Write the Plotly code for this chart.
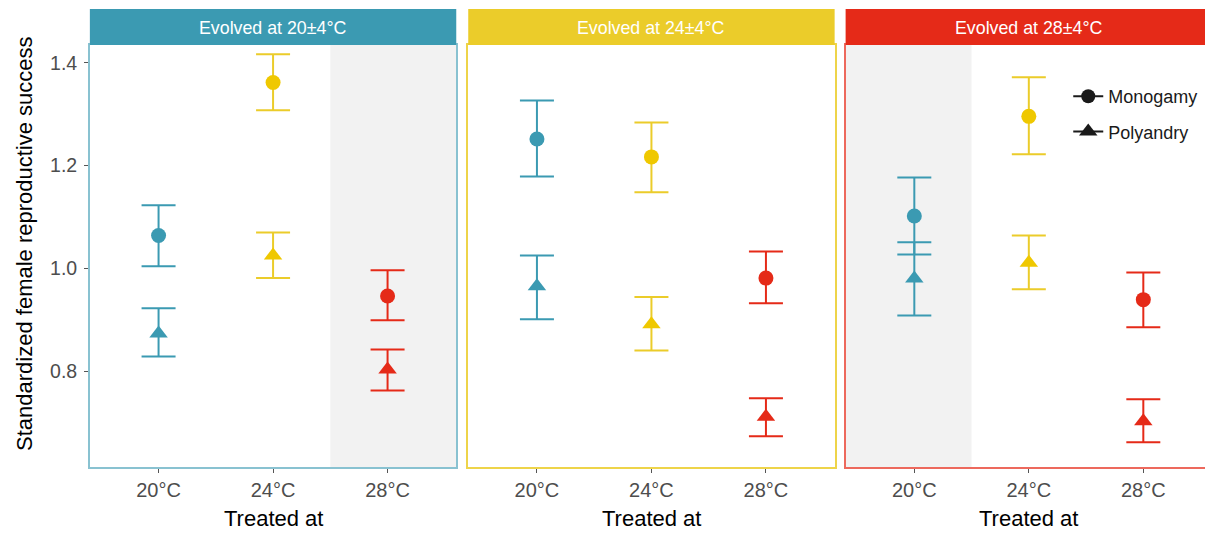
import plotly.graph_objects as go

# The page body has an 8px margin, so the figure is drawn 8px in from the window's corner
OFF = 8
WIN_W, WIN_H = 1213, 533
W, H = WIN_W, WIN_H - OFF

treat = ["20°C", "24°C", "28°C"]
panels = ["Evolved at 20±4°C", "Evolved at 24±4°C", "Evolved at 28±4°C"]

# Monogamy (circles): mean, lower, upper per panel (rows) x treatment (cols)
mono_mean = [[1.064, 1.362, 0.946], [1.252, 1.217, 0.981], [1.102, 1.296, 0.939]]
mono_lo = [[1.004, 1.308, 0.899], [1.179, 1.148, 0.932], [1.027, 1.222, 0.885]]
mono_hi = [[1.123, 1.417, 0.996], [1.327, 1.284, 1.033], [1.177, 1.372, 0.992]]

# Polyandry (triangles)
poly_mean = [[0.873, 1.025, 0.803], [0.965, 0.891, 0.711], [0.980, 1.011, 0.702]]
poly_lo = [[0.828, 0.981, 0.762], [0.901, 0.840, 0.673], [0.908, 0.959, 0.661]]
poly_hi = [[0.922, 1.070, 0.842], [1.025, 0.944, 0.747], [1.051, 1.064, 0.745]]

colors = ["#3B9AB2", "#EBCC2A", "#E52A18"]
point_colors = ["#3B9AB2", "#EFC800", "#E52A18"]
border_colors = ["rgba(59,154,178,0.6)", "rgba(235,204,42,0.85)", "rgba(229,42,24,0.7)"]
shade_ranges = [(1.5, 2.6), None, (-0.6, 0.5)]

FONT = "Arial, Liberation Sans, sans-serif"

def pxx(p):
    return (p - OFF) / W

def pxy(p):
    return 1 - (p - OFF) / H

# panel pixel extents (the third runs past the window edge, as in the reference)
x_domains = [(90, 457), (469, 836), (847, 1221)]
CAT_PX = 367 / 3.2  # pixels per category step
y_dom = [pxy(467), pxy(45)]

fig = go.Figure()

for i in range(3):
    xa = "x" if i == 0 else f"x{i+1}"
    ya = "y" if i == 0 else f"y{i+1}"
    for j in range(3):
        for mean, lo, hi, sym, size in [
            (mono_mean, mono_lo, mono_hi, "circle", 15),
            (poly_mean, poly_lo, poly_hi, "triangle-up", 16),
        ]:
            m = mean[i][j]
            fig.add_trace(go.Scatter(
                x=[j], y=[m], mode="markers",
                marker=dict(symbol=sym, size=size, color=point_colors[j], line=dict(width=0)),
                error_y=dict(type="data", symmetric=False,
                             array=[hi[i][j] - m], arrayminus=[m - lo[i][j]],
                             color=colors[j], thickness=2, width=17),
                xaxis=xa, yaxis=ya, showlegend=False, hoverinfo="skip"))

# legend entries
for k, (name, sym, size) in enumerate([("Monogamy", "circle", 14), ("Polyandry", "triangle-up", 18)]):
    fig.add_trace(go.Scatter(
        x=[None], y=[None], mode="lines+markers", name=name,
        marker=dict(symbol=sym, size=size, color="#1A1A1A"),
        line=dict(color="#1A1A1A", width=2),
        legendgroup=f"g{k}", xaxis="x3", yaxis="y3"))

layout = dict(
    width=W, height=H,
    margin=dict(l=0, r=0, t=0, b=0),
    paper_bgcolor="white", plot_bgcolor="white",
    font=dict(family=FONT),
    showlegend=True,
    legend=dict(x=pxx(1070), y=pxy(78), xanchor="left", yanchor="top",
                bgcolor="rgba(0,0,0,0)", font=dict(size=18, color="#1A1A1A"),
                traceorder="grouped", tracegroupgap=9, itemwidth=30),
)

shapes = []
annotations = []
for i in range(3):
    sfx = "" if i == 0 else str(i + 1)
    x0, x1 = x_domains[i]
    xr_end = -0.6 + (x1 - x0) / CAT_PX
    layout["xaxis" + sfx] = dict(
        domain=[pxx(x0), min(pxx(x1), 1.0)], range=[-0.6, xr_end],
        tickvals=[0, 1, 2], ticktext=treat,
        showline=True, mirror=True, linecolor=border_colors[i], linewidth=1.5,
        ticks="outside", ticklen=4, tickcolor="#555555", tickwidth=1,
        showgrid=False, zeroline=False,
        tickfont=dict(size=20, color="#4D4D4D"),
        anchor="y" + sfx, fixedrange=True)
    layout["yaxis" + sfx] = dict(
        domain=y_dom, range=[0.613, 1.435],
        tickvals=[0.8, 1.0, 1.2, 1.4], ticktext=["0.8", "1.0", "1.2", "1.4"],
        showticklabels=(i == 0),
        ticks="outside" if i == 0 else "", ticklen=4, tickcolor="#555555",
        ticklabelstandoff=3,
        showline=True, mirror=True, linecolor=border_colors[i], linewidth=1.5,
        showgrid=False, zeroline=False,
        tickfont=dict(size=19.5, color="#4D4D4D"),
        anchor="x" + sfx, fixedrange=True)
    if shade_ranges[i] is not None:
        s0, s1 = shade_ranges[i]
        s1 = min(s1, xr_end)
        shapes.append(dict(type="rect", xref="x" + sfx, yref="y" + sfx + " domain",
                           x0=s0, x1=s1, y0=0, y1=1,
                           fillcolor="#F2F2F2", line=dict(width=0), layer="below"))
    shapes.append(dict(type="rect", xref="paper", yref="paper",
                       x0=pxx(x0), x1=min(pxx(x1), 1.0), y0=pxy(45), y1=pxy(9),
                       fillcolor=colors[i], line=dict(width=0)))
    cx = x0 + 1.0 * CAT_PX + 0.6 * CAT_PX  # centre of the 24°C category
    annotations.append(dict(text=panels[i], xref="paper", yref="paper",
                            x=pxx(cx), y=pxy(28), showarrow=False,
                            font=dict(size=17.8, color="white"),
                            xanchor="center", yanchor="middle"))
    annotations.append(dict(text="Treated at", xref="paper", yref="paper",
                            x=pxx(cx), y=pxy(518), showarrow=False,
                            font=dict(size=22, color="black"),
                            xanchor="center", yanchor="middle"))

annotations.append(dict(text="Standardized female reproductive success",
                        xref="paper", yref="paper", x=pxx(25), y=pxy(243),
                        showarrow=False, textangle=-90,
                        font=dict(size=22, color="black"),
                        xanchor="center", yanchor="middle"))

layout["shapes"] = shapes
layout["annotations"] = annotations
fig.update_layout(**layout)

fig.write_html("out.html")
